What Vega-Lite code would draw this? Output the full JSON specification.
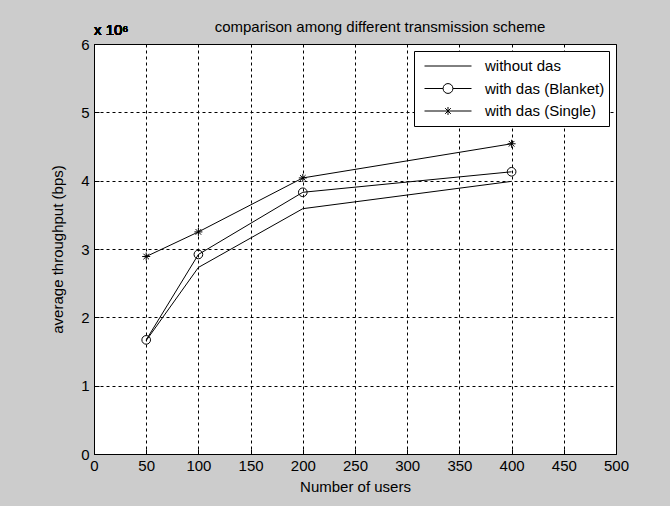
{
  "$schema": "https://vega.github.io/schema/vega-lite/v6.json",
  "autosize": "none",
  "padding": {"left": 94, "top": 44, "right": 54, "bottom": 52},
  "width": 522,
  "height": 410,
  "background": "#cccccc",
  "title": {
    "text": "comparison among different transmission scheme",
    "font": "Liberation Sans",
    "fontSize": 15,
    "fontWeight": "normal",
    "color": "#000000",
    "anchor": "middle",
    "dx": 25,
    "offset": -12
  },
  "config": {
    "view": {"stroke": "#000000", "strokeWidth": 1, "fill": "#ffffff"},
    "axis": {
      "labelFont": "Liberation Sans",
      "labelFontSize": 15,
      "labelColor": "#000000",
      "labelFlush": false,
      "titleFont": "Liberation Sans",
      "titleFontSize": 15,
      "titleFontWeight": "normal",
      "titleColor": "#000000",
      "domainColor": "#000000",
      "ticks": true,
      "tickSize": -5,
      "tickColor": "#000000",
      "grid": true,
      "gridColor": "#000000",
      "gridDash": [3, 3],
      "gridOpacity": 1,
      "gridWidth": 1
    }
  },
  "data": {
    "values": [
      {"users": 50, "tp": 1.66, "series": "without das"},
      {"users": 100, "tp": 2.73, "series": "without das"},
      {"users": 200, "tp": 3.59, "series": "without das"},
      {"users": 400, "tp": 3.99, "series": "without das"},
      {"users": 50, "tp": 1.67, "series": "with das (Blanket)"},
      {"users": 100, "tp": 2.92, "series": "with das (Blanket)"},
      {"users": 200, "tp": 3.83, "series": "with das (Blanket)"},
      {"users": 400, "tp": 4.13, "series": "with das (Blanket)"},
      {"users": 50, "tp": 2.89, "series": "with das (Single)"},
      {"users": 100, "tp": 3.25, "series": "with das (Single)"},
      {"users": 200, "tp": 4.04, "series": "with das (Single)"},
      {"users": 400, "tp": 4.54, "series": "with das (Single)"}
    ]
  },
  "encoding": {
    "x": {
      "field": "users",
      "type": "quantitative",
      "scale": {"domain": [0, 500], "nice": false, "zero": false},
      "axis": {"title": "Number of users", "values": [0, 50, 100, 150, 200, 250, 300, 350, 400, 450, 500], "labelPadding": 9, "titleY": 25, "titleBaseline": "top"}
    },
    "y": {
      "field": "tp",
      "type": "quantitative",
      "scale": {"domain": [0, 6], "nice": false},
      "axis": {"title": "average throughput (bps)", "values": [0, 1, 2, 3, 4, 5, 6], "labelPadding": 10, "titleX": -29, "titleY": 205, "titleAngle": -90, "titleBaseline": "bottom"}
    }
  },
  "layer": [
    {
      "mark": {"type": "line", "color": "#000000", "strokeWidth": 1},
      "encoding": {"detail": {"field": "series"}}
    },
    {
      "transform": [{"filter": "datum.series == 'with das (Blanket)'"}],
      "mark": {"type": "point", "shape": "circle", "size": 75, "filled": false, "stroke": "#000000", "strokeWidth": 1, "opacity": 1}
    },
    {
      "transform": [{"filter": "datum.series == 'with das (Single)'"}],
      "mark": {"type": "point", "shape": "M-1,0L1,0M0,-1L0,1M-0.7,-0.7L0.7,0.7M-0.7,0.7L0.7,-0.7", "size": 64, "filled": false, "stroke": "#000000", "strokeWidth": 1, "opacity": 1}
    },
    {
      "transform": [{"filter": "datum.series == 'none'"}],
      "mark": {"type": "point", "filled": false, "stroke": "#000000", "strokeWidth": 1, "opacity": 1},
      "encoding": {
        "shape": {
          "field": "series",
          "type": "nominal",
          "scale": {
            "domain": ["without das", "with das (Blanket)", "with das (Single)"],
            "range": [
              "M-1,0L1,0",
              "M-1,0L-0.21,0M0.21,0L1,0M-0.21,0A0.21,0.21 0 1 1 0.21,0A0.21,0.21 0 1 1 -0.21,0",
              "M-1,0L1,0M0,-0.17L0,0.17M-0.12,-0.12L0.12,0.12M-0.12,0.12L0.12,-0.12"
            ]
          },
          "legend": {
            "title": null,
            "orient": "top-right",
            "offset": 7,
            "padding": 4,
            "strokeColor": "#000000",
            "fillColor": "#ffffff",
            "symbolSize": 2209,
            "symbolStrokeColor": "#000000",
            "symbolFillColor": "transparent",
            "symbolStrokeWidth": 1,
            "symbolOpacity": 1,
            "symbolOffset": 6,
            "clipHeight": 22,
            "labelFont": "Liberation Sans",
            "labelFontSize": 15,
            "labelColor": "#000000",
            "labelOffset": 13,
            "labelExpr": "datum.label + ' '",
            "rowPadding": 0.5
          }
        }
      }
    },
    {
      "mark": {"type": "text", "text": "x 10⁶", "font": "Liberation Sans", "fontSize": 15, "color": "#000000", "align": "left", "baseline": "alphabetic", "dy": -9},
      "encoding": {"x": {"datum": 0}, "y": {"datum": 6}}
    }
  ]
}
